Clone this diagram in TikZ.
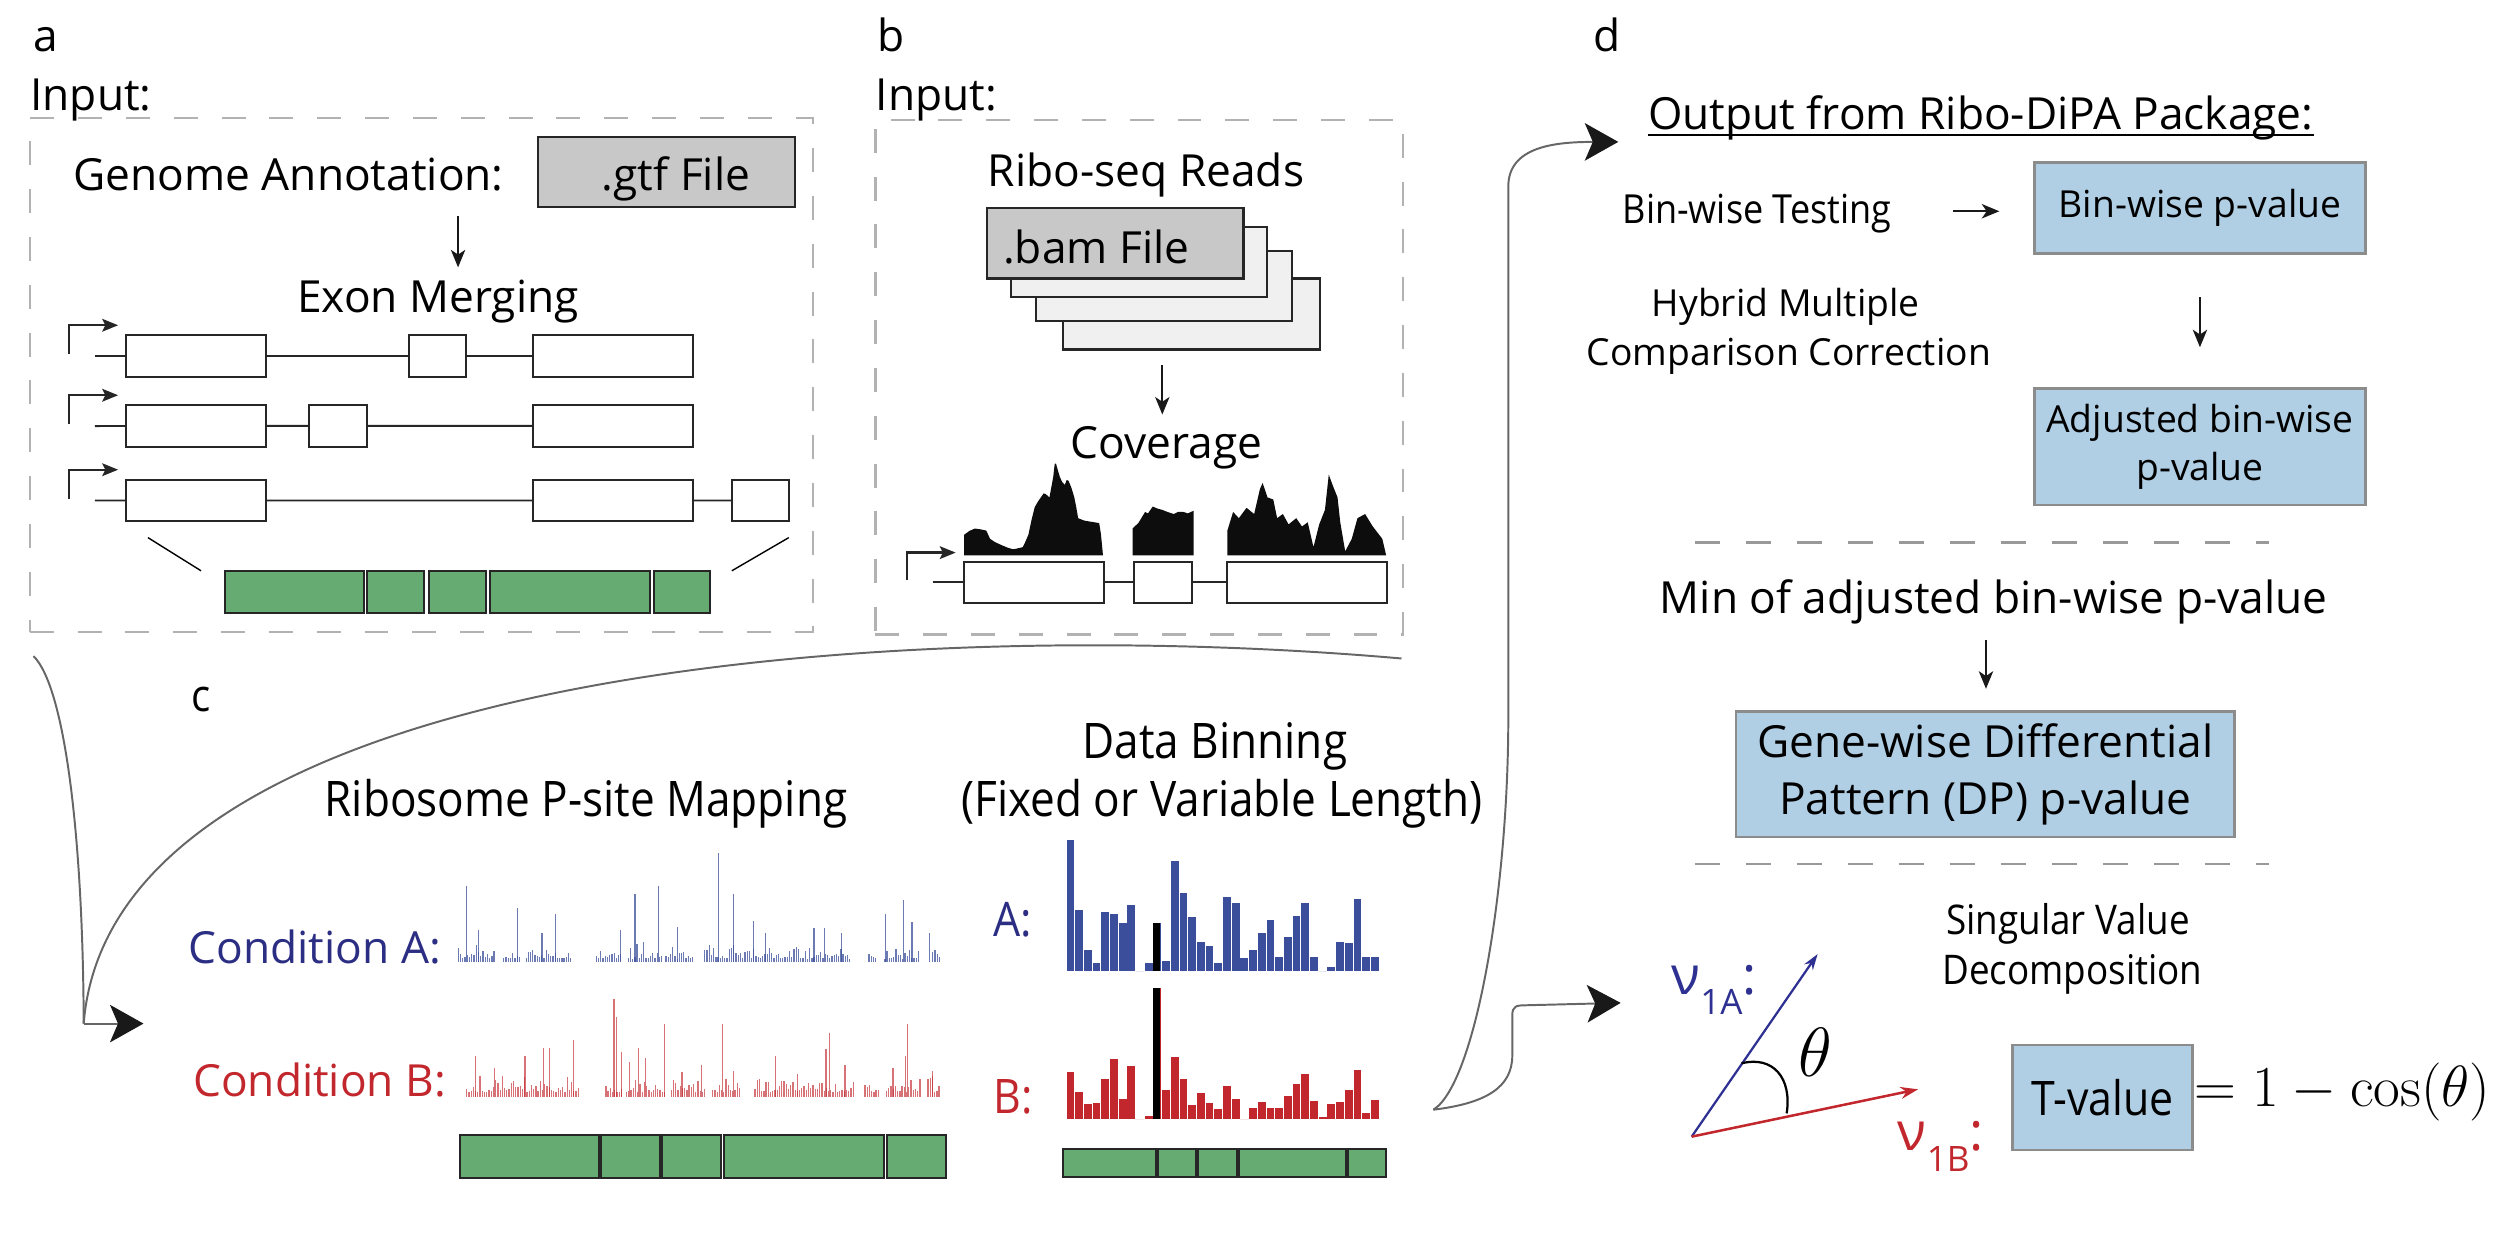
\documentclass[tikz,border=0pt]{standalone}
\usepackage[no-math]{fontspec}
\setmainfont{Open Sans}
\newfontfamily\condfont[FakeStretch=0.9]{Open Sans}
\usepackage{tikz}
\usetikzlibrary{arrows.meta,fit,calc,positioning}

\definecolor{exongreen}{RGB}{102,172,114}
\definecolor{pblue}{RGB}{176,207,228}
\definecolor{condA}{RGB}{43,46,131}
\definecolor{condB}{RGB}{193,39,45}
\definecolor{barA}{RGB}{59,78,155}
\definecolor{vecblue}{RGB}{46,49,146}
\definecolor{filegray}{RGB}{200,200,200}
\definecolor{fileback}{RGB}{240,240,240}

\begin{document}
\begin{tikzpicture}[x=0.02cm, y=-0.02cm,
    txt/.style={inner sep=0, font=\fontsize{15.8}{20}\selectfont},
    midtxt/.style={inner sep=0, font=\fontsize{13.3}{17.3}\selectfont},
    ctxt/.style={inner sep=0, font=\condfont\fontsize{#1}{#1}\selectfont},
    filebox/.style={draw=black!85, fill=filegray, line width=0.8pt, inner sep=0},
    backfile/.style={draw=black!85, fill=fileback, line width=0.8pt, inner sep=0},
    exon/.style={draw=black!85, fill=white, line width=0.7pt, inner sep=0},
    merged/.style={draw=black!85, fill=exongreen, line width=0.7pt, inner sep=0},
    intron/.style={draw=black!85, line width=0.7pt},
    promoter/.style={draw=black!85, line width=0.8pt, -{Stealth[length=0.2cm, width=0.16cm, inset=0.04cm]}},
    downarrow/.style={draw=black!90, line width=0.7pt, -{Stealth[length=0.22cm, width=0.18cm, inset=0.06cm]}},
    dashbox/.style={draw=black!30, line width=0.9pt, dash pattern=on 0.3cm off 0.3cm, inner sep=0},
    dashline/.style={draw=black!40, line width=0.9pt, dash pattern=on 0.32cm off 0.32cm},
    flow/.style={draw=black!60, line width=0.7pt},
    bigtip/.style={-{Stealth[length=0.42cm, width=0.47cm, inset=0.1cm, color=black!90]}},
    pbox/.style={draw=black!45, fill=pblue, line width=0.9pt, inner sep=0, align=center},
    spikeA/.style={draw=barA, line width=0.45pt, opacity=0.75},
    spikeB/.style={draw=condB, line width=0.45pt, opacity=0.65},
    vecA/.style={draw=vecblue, line width=0.8pt, -{Stealth[length=0.2cm, width=0.13cm]}},
    vecB/.style={draw=condB, line width=0.9pt, -{Stealth[length=0.22cm, width=0.15cm]}}
]
    \useasboundingbox (0,0) rectangle (1568,784);

    % ---- panel a
    \node[txt, anchor=base west] (labela) at (20.4,32.5) {a};
    \node[txt, anchor=base west] (inputa) at (18.7,69) {Input:};
    \node[dashbox, fit={(18.7,74) (510,396.5)}] (boxa) {};
    \node[txt, anchor=base] (genome) at (181,119.6) {Genome Annotation:};
    \node[filebox, fit={(337.6,85.8) (498.8,130)}] (gtf) {};
    \node[txt, anchor=base] (gtftxt) at (424,119.6) {.gtf File};
    \node[txt, anchor=base] (exonmerge) at (274.7,196.3) {Exon Merging};
    \coordinate (ga) at (287.3,135.7);
    \coordinate (gb) at (287.3,167.7);
    \draw[downarrow] (ga) -- (gb);

    % transcripts
    \node[exon, fit={(79.2,210) (166.6,236.6)}] (e11) {};
    \node[exon, fit={(256.7,210) (292.4,236.6)}] (e12) {};
    \node[exon, fit={(334.2,210) (434.5,236.6)}] (e13) {};
    \node[exon, fit={(79.2,254) (166.6,280.3)}] (e21) {};
    \node[exon, fit={(194.1,254) (229.9,280.3)}] (e22) {};
    \node[exon, fit={(334.2,254) (434.5,280.3)}] (e23) {};
    \node[exon, fit={(79.2,300.8) (166.6,327)}] (e31) {};
    \node[exon, fit={(334.2,300.8) (434.5,327)}] (e33) {};
    \node[exon, fit={(459,300.8) (494.7,327)}] (e34) {};
    \coordinate (s1) at (59.5,223.3);
    \coordinate (s2) at (59.5,267.2);
    \coordinate (s3) at (59.5,313.9);
    \draw[intron] (s1) -- (e11) -- (e12) -- (e13);
    \draw[intron] (s2) -- (e21) -- (e22) -- (e23);
    \draw[intron] (s3) -- (e31) -- (e33) -- (e34);
    \foreach \y in {223.3,267.2,313.9}
        \draw[promoter] (43.2,\y-1) |- (74.1,\y-19.3);

    % merged exons
    \draw[line width=0.5pt] (92.8,337.2) -- (126.1,358);
    \draw[line width=0.5pt] (494.7,337.2) -- (459,358);
    \foreach \xa/\xb [count=\k] in {141.1/228.2, 230.2/266.2, 269/305, 307.4/407.7, 410/445.4}
        \node[merged, fit={(\xa,358.3) (\xb,384.3)}] (ma\k) {};

    % ---- panel b
    \node[txt, anchor=base west] (labelb) at (550,32.5) {b};
    \node[txt, anchor=base west] (inputb) at (549,69) {Input:};
    \node[dashbox, fit={(549,75.4) (880,397.8)}] (boxb) {};
    \node[txt, anchor=base] (riboseq) at (718.8,117) {Ribo-seq Reads};
    \node[backfile, fit={(666.8,174.7) (827.9,219.2)}] (f4) {};
    \node[backfile, fit={(649.6,157.3) (810.1,201.5)}] (f3) {};
    \node[backfile, fit={(634.2,142.2) (794.5,186.4)}] (f2) {};
    \node[filebox, fit={(619,130.5) (779.9,174.7)}] (f1) {};
    \node[txt, anchor=base] (bamtxt) at (687.6,165) {.bam File};
    \coordinate (ba) at (729,228.8);
    \coordinate (bb) at (729,260);
    \draw[downarrow] (ba) -- (bb);
    \node[txt, anchor=base] (coverage) at (731.8,287.3) {Coverage};

    % coverage
    \fill[black!95] plot coordinates {(604.7,348.4) (604.7,335.4) (608,333) (611.4,331.5) (615,332) (618.6,332.8) (621,338) (624,340) (628.2,341.9) (632,343.5) (635.4,344.5) (638,344) (641.4,343.2) (643,340) (645,335.4) (647,326) (649,318) (651,314.6) (654.6,309.4) (656,310) (658.2,312) (659.5,305) (660.6,299) (661.5,291) (662.3,290.7) (663.5,295) (664.7,299) (666,302) (667.8,304.2) (669,301) (670.2,301.6) (672,306) (673.8,312) (675,318) (676.2,325) (680,326.5) (683.4,327.1) (686,327.5) (689.4,328.1) (690.5,335) (691.8,348.4)} -- cycle;
    \fill[black!95] plot coordinates {(710.3,348.4) (710.3,331.5) (714,328) (718.2,321.1) (720,322) (723,317.7) (726,319) (729,319.8) (732,321) (736.2,322.4) (739,321) (742.2,321.1) (745,322) (748.7,320.3) (748.7,348.4)} -- cycle;
    \fill[black!95] plot coordinates {(769.8,348.4) (769.8,332.8) (773.4,321.1) (777,325) (781.8,318.5) (786.6,322.4) (790.2,306.8) (791.9,302.9) (795,312) (798.6,313.3) (801,325) (804.6,322.4) (808.2,328.9) (813,325) (816.6,330.2) (820.2,327.6) (823.8,343.2) (827.4,328.9) (831,319.8) (833.4,297.7) (835.8,304.2) (838.9,312) (840.6,327.6) (843.7,345.8) (847.8,338) (851.4,325) (856.2,322.4) (861,330.2) (867,338) (869.4,348.4)} -- cycle;

    \node[exon, fit={(604.9,352.3) (692.3,378.3)}] (b1) {};
    \node[exon, fit={(711.5,352.3) (747.5,378.3)}] (b2) {};
    \node[exon, fit={(769.3,352.3) (870.1,378.3)}] (b3) {};
    \coordinate (sb) at (585,365.3);
    \draw[intron] (sb) -- (b1) -- (b2) -- (b3);
    \draw[promoter] (569,364) |- (599.4,346.6);

    % ---- panel c
    \node[ctxt=16, anchor=base west] (labelc) at (120,446.4) {c};
    \node[ctxt=17.5, anchor=base] (psite) at (367.5,512.2) {Ribosome P-site Mapping};
    \node[ctxt=17.5, anchor=base] (binning) at (762,475.6) {Data Binning};
    \node[ctxt=17.5, anchor=base] (binlen) at (766.5,512.2) {(Fixed or Variable Length)};
    \node[txt, anchor=base west, text=condA] (condA) at (118,604.2) {Condition A:};
    \node[txt, anchor=base west, text=condB] (condB) at (120.8,687.8) {Condition B:};
    \node[ctxt=17, anchor=base west, text=condA] (binA) at (622.7,587.4) {A:};
    \node[ctxt=17, anchor=base west, text=condB] (binB) at (622.7,698.2) {B:};

    % mapped P-sites
    \pgfmathsetseed{11}
    \foreach \xa/\xb in {287.5/310.5, 316/326, 330/358.6, 374/390, 394/415, 417.7/435, 442/533, 545/550, 555/577, 585/590}{
        \pgfmathsetmacro\xn{\xa+1.4}
        \foreach \x in {\xa,\xn,...,\xb}{
            \pgfmathsetmacro\h{2+11*rnd*rnd}
            \draw[spikeA] (\x,603.2) -- ++(0,-\h);
        }
    }
    \foreach \x/\h in {292.7/47.4, 324.8/34, 348.6/29.9, 398.3/42.2, 412.8/47.4, 450.7/68.3, 460/42.6, 472.7/25.5, 510.5/21.3, 517.1/21.3, 566.8/38.5, 555.4/29.9, 300/20, 340/18, 389/20, 425/22, 480/18, 528/18, 572/25, 583/18}
        \draw[spikeA] (\x,603.2) -- ++(0,-\h);
    \foreach \xa/\xb in {292.7/363.8, 380/391, 393/418, 421/442, 447/465, 473.5/536, 542.5/552, 556/577, 582/590}{
        \pgfmathsetmacro\xn{\xa+1.4}
        \foreach \x in {\xa,\xn,...,\xb}{
            \pgfmathsetmacro\h{3+11*rnd*rnd}
            \draw[spikeB] (\x,687.8) -- ++(0,-\h);
        }
    }
    \foreach \x/\h in {298.4/25.5, 329.2/25.5, 341.1/30.3, 344.6/30.7, 359.6/35.5, 385.1/61, 386.5/50, 400.5/30.3, 416.8/45.4, 427.8/15.5, 453.3/45.4, 486.3/25.3, 520.2/40.1, 518/30.1, 567.7/25.3, 569/45.4, 310/18, 390/28, 395/22, 405/24, 440/20, 460/16, 500/14, 530/20, 560/18, 585/16}
        \draw[spikeB] (\x,687.8) -- ++(0,-\h);

    % binned counts
    \foreach \h [count=\i from 0] in {82.1,38.2,13.2,5.2,37.2,35.7,30.3,41.2,0,5.2,30.3,6.5,69,48.7,34.1,18.4,15.7,5.2,46.6,42.4,7.9,13.2,24,32,9,21.1,34.7,42.4,9,0,2.3,18.4,17.3,44.9,9,9}
        \fill[barA] (668.9+5.456*\i,609) rectangle ++(4.9,-\h);
    \fill[black] (668.9+5.456*10,609) rectangle ++(4.2,-30.3);
    \foreach \h [count=\i from 0] in {29.9,17.3,9.6,10.5,25.1,37.6,13,33.4,0,2.1,82.1,18.4,38.9,25.1,9.2,16.3,10,6.5,20.9,12.7,0,7.3,10.7,7.3,7.3,14.6,22.2,28.2,11.7,1.7,9.4,11.1,18.4,30.9,3.8,12.1}
        \fill[condB] (668.9+5.456*\i,702) rectangle ++(4.9,-\h);
    \fill[black] (668.9+5.456*10,702) rectangle ++(4.2,-82.1);

    % merged exons under the tracks
    \foreach \xa/\xb [count=\k] in {288.3/375.4, 377.2/413.7, 415.5/452.4, 454.2/554.5, 556.3/593.3}
        \node[merged, fit={(\xa,711.8) (\xb,739)}] (mc\k) {};
    \foreach \xa/\xb [count=\k] in {666.7/725.2, 726.1/750.3, 751.6/775.8, 777.1/844, 845.3/869.1}
        \node[merged, fit={(\xa,720.6) (\xb,738.5)}] (md\k) {};

    % ---- flow between panels
    \coordinate (aout) at (21,411.5);
    \coordinate (bout) at (879,413);
    \coordinate (cjoin) at (52.5,642);
    \coordinate (cin) at (90,642);
    \draw[flow] (aout) .. controls (40,430) and (52,520) .. (cjoin);
    \draw[flow] (bout) .. controls (560,385) and (70,420) .. (cjoin);
    \draw[flow, bigtip] (cjoin) -- (cin);

    \coordinate (cout) at (899,696);
    \coordinate (dtop) at (1015,89);
    \coordinate (dsvd) at (1016.5,629);
    \draw[flow, bigtip] (cout) .. controls (925,680) and (946,560) .. (946,450) -- (946,117) .. controls (946,92) and (975,89) .. (dtop);
    \draw[flow, bigtip] (cout) .. controls (932,692) and (948.5,682) .. (948.5,662) -- (948.5,637) .. controls (948.5,631) and (951,630.5) .. (957,630.5) -- (dsvd);

    % ---- panel d
    \node[txt, anchor=base west] (labeld) at (998.8,32.4) {d};
    \node[txt, anchor=base] (outtitle) at (1242.4,81) {Output from Ribo-DiPA Package:};
    \draw[line width=0.8pt] ($(outtitle.base west)+(0,3.6)$) -- ($(outtitle.base east)+(0,3.6)$);
    \node[ctxt=14.3, anchor=base] (bintest) at (1102,140.4) {Bin-wise Testing};
    \node[pbox, midtxt, minimum width=4.152cm, minimum height=1.144cm] (binp) at (1379.8,130.5) {Bin-wise p-value};
    \coordinate (ta) at (1224.8,132.5);
    \coordinate (tb) at (1254,132.5);
    \draw[downarrow] (ta) -- (tb);
    \node[midtxt, anchor=base] (hybrid) at (1120,198.7) {Hybrid Multiple};
    \node[midtxt, anchor=base] (compcorr) at (1122,229.3) {Comparison Correction};
    \node[pbox, midtxt, minimum width=4.152cm, minimum height=1.462cm] (adjp) at (1379.8,280.3) {Adjusted bin-wise\\p-value};
    \draw[downarrow] (binp.south |- 0,186.5) -- (binp.south |- 0,217.8);
    \draw[dashline] (1062.8,340.2) -- (1422.8,340.2);
    \node[txt, anchor=base] (minp) at (1250.4,384.5) {Min of adjusted bin-wise p-value};
    \coordinate (ma) at (1245.6,401.4);
    \coordinate (mb) at (1245.6,432);
    \draw[downarrow] (ma) -- (mb);
    \node[pbox, font=\fontsize{15.8}{20.4}\selectfont, minimum width=6.256cm, minimum height=1.57cm] (genewise) at (1245.2,485.6) {Gene-wise Differential\\Pattern (DP) p-value};
    \draw[dashline] (1062.8,541.8) -- (1422.8,541.8);

    \node[ctxt=14.6, anchor=base] (svd1) at (1297,586.4) {Singular Value};
    \node[ctxt=14.6, anchor=base] (svd2) at (1299.8,617.7) {Decomposition};

    % singular vectors
    \coordinate (vo) at (1061,712.9);
    \coordinate (vA) at (1140,598.4);
    \coordinate (vB) at (1203,683.2);
    \draw[vecA] (vo) -- (vA);
    \draw[vecB] (vo) -- (vB);
    \draw[line width=0.8pt] (1092.3,666.9) .. controls (1112,662) and (1124,676) .. (1120.6,698.3);
    \node[inner sep=0, font=\fontsize{24}{24}\selectfont] (theta) at (1138.6,660) {$\theta$};
    \node[inner sep=0, anchor=base west, text=vecblue, font=\fontsize{19}{19}\selectfont] (nuA) at (1048,623.5) {ν\raisebox{-0.26cm}{\fontsize{12.5}{12.5}\selectfont 1A}:};
    \node[inner sep=0, anchor=base west, text=condB, font=\fontsize{19}{19}\selectfont] (nuB) at (1190,721.8) {ν\raisebox{-0.26cm}{\fontsize{12.5}{12.5}\selectfont 1B}:};

    \node[pbox, ctxt=17, minimum width=2.258cm, minimum height=1.316cm] (tval) at (1318.8,688.3) {T-value};
    \node[inner sep=0, anchor=base west, font=\fontsize{19.4}{19.4}\selectfont] (tform) at (1376,694) {$=1-\cos(\theta)$};
\end{tikzpicture}
\end{document}
